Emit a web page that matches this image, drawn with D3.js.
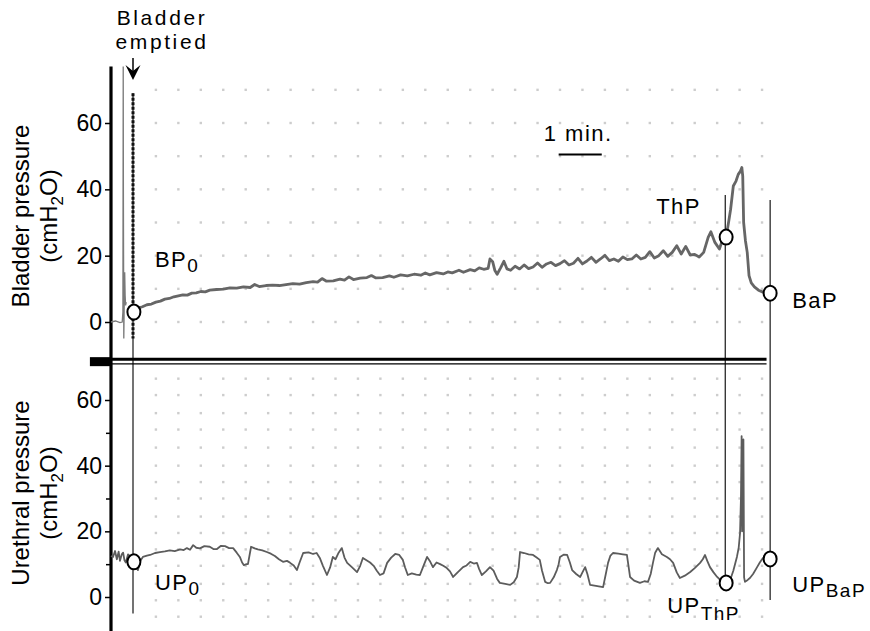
<!DOCTYPE html>
<html>
<head>
<meta charset="utf-8">
<script src="https://cdn.jsdelivr.net/npm/d3@7"></script>
<style>
  body { margin: 0; background: #fff; }
  svg { display: block; }
  text { font-family: "Liberation Sans", Arial, Helvetica, sans-serif; fill: #000; }
</style>
</head>
<body>
<svg id="chart" width="870" height="631"></svg>
<script>
// time in minutes, pressure in cmH2O

// bladder trace before the emptying spike
const bladderPre = [
  [0, 0], [0.1, 0.3], [0.2, -0.2], [0.25, 0], [0.265, 3], [0.27, 55], [0.272, 77],
  [0.276, 40], [0.285, -5], [0.295, 6], [0.305, 15], [0.315, 8], [0.325, 5], [0.34, 6]
];

// emptying artefact at the arrow
const emptiedSpike = [[0.49, 69], [0.49, -5]];

// bladder pressure after emptying
const bladderPressure = [
  [0.51, 3.0], [0.6, 4.2], [0.7, 4.6], [0.8, 5.2], [0.9, 5.4], [1.0, 6.0], [1.1, 6.3], [1.2, 6.9],
  [1.3, 7.1], [1.4, 7.6], [1.5, 7.9], [1.6, 8.2], [1.7, 8.1], [1.8, 8.7], [1.9, 8.8], [2.0, 9.2],
  [2.1, 9.1], [2.2, 9.6], [2.35, 9.8], [2.5, 9.9], [2.65, 10.3], [2.8, 10.2], [2.95, 10.6], [3.1, 10.4],
  [3.2, 11.3], [3.3, 10.7], [3.45, 11.0], [3.6, 11.1], [3.75, 11.0], [3.9, 11.3], [4.05, 11.6], [4.2, 11.4],
  [4.35, 11.9], [4.5, 12.2], [4.6, 12.0], [4.7, 13.1], [4.8, 12.3], [4.95, 12.4], [5.1, 12.9], [5.2, 12.6],
  [5.3, 13.6], [5.4, 12.8], [5.55, 13.2], [5.7, 13.4], [5.8, 14.0], [5.9, 13.3], [6.05, 13.4], [6.2, 13.9],
  [6.3, 13.5], [6.45, 14.2], [6.6, 13.9], [6.75, 14.4], [6.9, 14.1], [7.0, 14.8], [7.1, 14.2], [7.25, 14.9],
  [7.4, 14.5], [7.5, 15.1], [7.6, 14.8], [7.75, 15.6], [7.85, 15.0], [8.0, 15.8], [8.1, 15.4], [8.2, 16.3],
  [8.3, 15.9], [8.4, 16.2], [8.44, 19.0], [8.5, 18.2], [8.55, 15.5], [8.6, 14.4], [8.68, 16.4], [8.75, 18.3],
  [8.82, 16.0], [8.9, 15.6], [9.0, 16.8], [9.1, 16.0], [9.2, 17.2], [9.3, 16.1], [9.4, 16.6], [9.5, 17.8],
  [9.6, 16.5], [9.7, 17.5], [9.8, 18.0], [9.9, 17.0], [10.0, 17.6], [10.1, 18.5], [10.2, 17.2], [10.3, 17.7],
  [10.4, 19.2], [10.5, 17.5], [10.6, 18.4], [10.7, 19.5], [10.8, 18.0], [10.9, 19.0], [11.0, 20.1], [11.1, 18.5],
  [11.2, 19.0], [11.3, 18.3], [11.4, 19.6], [11.5, 18.8], [11.6, 19.0], [11.7, 20.2], [11.8, 19.0], [11.9, 19.5],
  [12.0, 21.2], [12.1, 19.3], [12.2, 20.0], [12.3, 21.5], [12.4, 19.8], [12.5, 21.0], [12.6, 23.0], [12.7, 20.5],
  [12.8, 22.8], [12.9, 20.2], [13.0, 20.4], [13.1, 19.6], [13.2, 21.0], [13.3, 25.5], [13.36, 27.2], [13.45, 24.0],
  [13.55, 22.0], [13.62, 24.8], [13.7, 25.6], [13.76, 30.5], [13.8, 34.0], [13.86, 41.0], [13.92, 42.5], [13.97, 44.5],
  [14.02, 45.5], [14.05, 46.6], [14.07, 44.0], [14.09, 30.0], [14.13, 24.5], [14.17, 21.0], [14.21, 14.0], [14.26, 11.8],
  [14.33, 10.6], [14.42, 9.6], [14.52, 9.0], [14.68, 8.7]
];

// urethral pressure
const urethralPressure = [
  [0.0, 12.5], [0.045, 12.2], [0.09, 14.0], [0.13, 11.5], [0.17, 13.8], [0.2, 11.0], [0.24, 13.0], [0.27, 13.5],
  [0.3, 11.2], [0.33, 10.5], [0.38, 13.0], [0.42, 12.5], [0.46, 11.0], [0.51, 10.7], [0.56, 9.5], [0.6, 8.2],
  [0.65, 11.0], [0.71, 12.2], [0.8, 12.6], [0.87, 12.8], [0.98, 13.4], [1.09, 13.7], [1.2, 13.9], [1.31, 14.2],
  [1.42, 14.0], [1.54, 14.5], [1.62, 14.3], [1.69, 14.9], [1.76, 14.4], [1.83, 15.8], [1.9, 15.0], [1.98, 14.8],
  [2.08, 15.5], [2.2, 15.3], [2.28, 14.6], [2.36, 14.6], [2.45, 15.6], [2.54, 15.5], [2.63, 14.9], [2.72, 14.9],
  [2.8, 13.5], [2.87, 12.2], [2.92, 10.5], [2.96, 9.7], [3.02, 10.0], [3.05, 10.0], [3.12, 15.3], [3.2, 14.8],
  [3.27, 14.5], [3.37, 14.2], [3.47, 13.7], [3.56, 13.2], [3.65, 12.5], [3.74, 11.5], [3.83, 10.7], [3.92, 11.0],
  [3.99, 10.4], [4.07, 9.6], [4.14, 8.2], [4.2, 10.5], [4.28, 13.4], [4.4, 13.6], [4.5, 13.1], [4.58, 13.4],
  [4.65, 11.9], [4.72, 9.5], [4.81, 6.7], [4.88, 9.0], [4.94, 12.2], [5.0, 11.5], [5.07, 13.5], [5.14, 14.9],
  [5.2, 12.0], [5.26, 10.4], [5.37, 9.0], [5.48, 7.6], [5.55, 9.5], [5.61, 11.9], [5.69, 11.2], [5.77, 10.5],
  [5.85, 9.5], [5.92, 8.0], [5.99, 6.7], [6.07, 7.2], [6.15, 10.4], [6.24, 12.0], [6.33, 13.1], [6.42, 12.8],
  [6.5, 11.3], [6.55, 9.0], [6.61, 6.7], [6.7, 7.2], [6.8, 6.8], [6.88, 6.7], [6.96, 9.5], [7.04, 12.2],
  [7.1, 11.0], [7.17, 9.1], [7.25, 10.5], [7.33, 10.0], [7.4, 9.5], [7.48, 8.8], [7.55, 7.8], [7.62, 6.1],
  [7.72, 7.5], [7.84, 9.1], [7.92, 9.6], [8.0, 10.7], [8.08, 10.2], [8.15, 10.4], [8.2, 8.5], [8.26, 6.7],
  [8.35, 7.8], [8.44, 9.1], [8.52, 8.0], [8.6, 5.5], [8.66, 4.3], [8.78, 4.0], [8.89, 3.7], [8.97, 4.5],
  [9.04, 6.1], [9.08, 9.0], [9.11, 13.7], [9.2, 13.4], [9.3, 13.0], [9.4, 12.8], [9.48, 12.0], [9.55, 11.3],
  [9.6, 8.0], [9.67, 4.6], [9.73, 4.2], [9.78, 4.3], [9.86, 6.0], [9.93, 8.2], [9.97, 10.0], [10.0, 12.2],
  [10.08, 12.9], [10.16, 12.8], [10.22, 10.5], [10.27, 8.2], [10.36, 7.0], [10.45, 6.1], [10.5, 7.5], [10.56, 9.1],
  [10.61, 7.0], [10.67, 3.7], [10.8, 3.4], [10.96, 3.0], [11.02, 7.0], [11.07, 10.4], [11.12, 12.5], [11.18, 13.4],
  [11.3, 13.2], [11.4, 13.0], [11.49, 12.8], [11.53, 9.0], [11.56, 6.1], [11.65, 5.0], [11.78, 4.3], [11.88, 4.8],
  [11.96, 4.6], [12.02, 7.0], [12.07, 10.4], [12.12, 13.5], [12.18, 14.9], [12.27, 13.0], [12.38, 12.2], [12.45, 11.5],
  [12.52, 10.4], [12.6, 7.5], [12.67, 5.8], [12.78, 6.5], [12.9, 7.6], [13.0, 8.8], [13.12, 10.4], [13.18, 11.5],
  [13.23, 12.8], [13.28, 11.0], [13.34, 9.1], [13.42, 7.5], [13.5, 6.1], [13.6, 4.8], [13.68, 3.7], [13.74, 4.2],
  [13.79, 5.2], [13.86, 8.0], [13.94, 12.2], [13.98, 15.0], [14.01, 19.5], [14.03, 30.0], [14.045, 49.0], [14.055, 20.0],
  [14.07, 35.0], [14.085, 48.0], [14.1, 6.0], [14.12, 4.6], [14.18, 5.2], [14.23, 5.8], [14.3, 7.0], [14.39, 9.1],
  [14.45, 10.5], [14.52, 11.9], [14.6, 11.4], [14.68, 11.6]
];

// reference points: [time, value]
const bladderPoints = [[0.51, 3.0], [13.7, 25.6], [14.68, 8.7]];
const urethralPoints = [[0.51, 10.7], [13.7, 4.3], [14.68, 11.6]];

// tick values
const yTicksMajor = [0, 20, 40, 60];
const yTicksMinor = [10, 30, 50];
const gridCols = d3.range(1, 14.51, 0.5);
const gridRowsTop = [0, 10, 20, 30, 40, 50, 60, 70];
const gridRowsBottom = [-6, -1, 4, 9.5, 14.5, 19.5, 24.5, 30, 35, 40, 45.5, 51, 56, 61.5, 66.5];

const svg = d3.select('#chart');

const x = d3.scaleLinear().domain([0, 15]).range([111, 111 + 15 * 44.9]);
const yTop = d3.scaleLinear().domain([0, 60]).range([322, 123]);
const yBot = d3.scaleLinear().domain([0, 60]).range([597, 400]);

// dotted grid
const dotColor = '#cdcdcd';
function gridDots(rows, y) {
  const pts = [];
  rows.forEach(r => gridCols.forEach(c => pts.push([c, r])));
  svg.append('g')
    .selectAll('rect')
    .data(pts)
    .enter()
    .append('rect')
    .attr('x', d => x(d[0]) - 1.2)
    .attr('y', d => y(d[1]) - 1.2)
    .attr('width', 2.4)
    .attr('height', 2.4)
    .attr('fill', dotColor);
}
gridDots(gridRowsTop, yTop);
gridDots(gridRowsBottom, yBot);

// axes
const axisX = x(0);
function styleAxis(g, fontSize) {
  g.select('.domain').remove();
  g.selectAll('.tick line').attr('stroke', '#000').attr('stroke-width', 1.5);
  g.selectAll('.tick text')
    .style('font-size', fontSize + 'px')
    .style('font-family', '"Liberation Sans", Arial, sans-serif')
    .attr('fill', '#000');
}

svg.append('g')
  .attr('transform', `translate(${axisX},0)`)
  .call(d3.axisLeft(yTop).tickValues(yTicksMajor).tickSize(6).tickPadding(3))
  .call(g => styleAxis(g, 23));

svg.append('g')
  .attr('transform', `translate(${axisX},0)`)
  .call(d3.axisLeft(yBot).tickValues(yTicksMajor).tickSize(6).tickPadding(3))
  .call(g => styleAxis(g, 23));

svg.append('g')
  .attr('transform', `translate(${axisX},0)`)
  .call(d3.axisLeft(yBot).tickValues(yTicksMinor).tickSize(5).tickFormat(''))
  .call(g => styleAxis(g, 23));

// vertical axis line (continuous through both panels)
svg.append('line')
  .attr('x1', axisX).attr('x2', axisX)
  .attr('y1', yTop(77)).attr('y2', yBot(-10.5))
  .attr('stroke', '#000').attr('stroke-width', 3.2);

// separator between the panels
svg.append('rect')
  .attr('x', x(-0.47)).attr('y', yTop(-10.6))
  .attr('width', x(0) - x(-0.47)).attr('height', 9)
  .attr('fill', '#000');
svg.append('line')
  .attr('x1', x(0)).attr('x2', x(14.6))
  .attr('y1', yTop(-11.2)).attr('y2', yTop(-11.2))
  .attr('stroke', '#000').attr('stroke-width', 3);
svg.append('line')
  .attr('x1', x(0)).attr('x2', x(14.6))
  .attr('y1', yTop(-12.6)).attr('y2', yTop(-12.6))
  .attr('stroke', '#000').attr('stroke-width', 1.3);

// event lines
function vline(t, y1, y2) {
  svg.append('line')
    .attr('x1', x(t)).attr('x2', x(t))
    .attr('y1', y1).attr('y2', y2)
    .attr('stroke', '#000').attr('stroke-width', 1.1);
}
vline(0.49, yTop(69), yBot(-5));
vline(13.68, yTop(38.3), yBot(3.5));
vline(14.68, yTop(36.8), yBot(-0.9));

// traces
const lineTop = d3.line().x(d => x(d[0])).y(d => yTop(d[1]));
const lineBot = d3.line().x(d => x(d[0])).y(d => yBot(d[1]));

svg.append('path')
  .attr('d', lineTop(bladderPre))
  .attr('fill', 'none').attr('stroke', '#7a7a7a').attr('stroke-width', 1.3);

svg.append('path')
  .attr('d', lineTop(emptiedSpike))
  .attr('fill', 'none').attr('stroke', '#111').attr('stroke-width', 3)
  .attr('stroke-dasharray', '3,1.5');

svg.append('path')
  .attr('d', lineTop(bladderPressure))
  .attr('fill', 'none').attr('stroke', '#666').attr('stroke-width', 2.8)
  .attr('stroke-linejoin', 'round');

svg.append('path')
  .attr('d', lineBot(urethralPressure))
  .attr('fill', 'none').attr('stroke', '#5c5c5c').attr('stroke-width', 1.8)
  .attr('stroke-linejoin', 'round');

// markers
function markers(pts, y) {
  svg.append('g')
    .selectAll('ellipse')
    .data(pts)
    .enter()
    .append('ellipse')
    .attr('cx', d => x(d[0]))
    .attr('cy', d => y(d[1]))
    .attr('rx', 6.5).attr('ry', 7.5)
    .attr('fill', '#fff').attr('stroke', '#000').attr('stroke-width', 2);
}
markers(bladderPoints, yTop);
markers(urethralPoints, yBot);

// labels
function label(px, py, main, sub, subDy) {
  const t = svg.append('text')
    .attr('x', px).attr('y', py)
    .style('font-size', '22px')
    .style('letter-spacing', '1.5px');
  t.append('tspan').text(main);
  if (sub) {
    t.append('tspan').attr('dy', subDy).style('font-size', '19px').text(sub);
  }
}
label(x(0.51) + 21, yTop(3.0) - 45, 'BP', '0', 5);
label(x(13.7) - 70, yTop(25.6) - 23, 'ThP');
label(x(14.68) + 22, yTop(8.7) + 15, 'BaP');
label(x(0.51) + 21, yBot(10.7) + 28, 'UP', '0', 5);
label(x(13.7) - 59, yBot(4.3) + 30, 'UP', 'ThP', 7);
label(x(14.68) + 22, yBot(11.6) + 33, 'UP', 'BaP', 5);

// "Bladder emptied" annotation with arrow
const ax = x(0.49);
svg.append('text')
  .attr('x', ax + 29).attr('y', 25)
  .attr('text-anchor', 'middle')
  .style('font-size', '21px').style('letter-spacing', '2.6px')
  .text('Bladder');
svg.append('text')
  .attr('x', ax + 29).attr('y', 49)
  .attr('text-anchor', 'middle')
  .style('font-size', '21px').style('letter-spacing', '2.6px')
  .text('emptied');
svg.append('line')
  .attr('x1', ax).attr('x2', ax).attr('y1', 58).attr('y2', 72)
  .attr('stroke', '#000').attr('stroke-width', 1.5);
svg.append('path')
  .attr('d', `M${ax - 7.5},${65} L${ax},${80} L${ax + 7.5},${65} L${ax},${71} Z`)
  .attr('fill', '#000');

// 1 min scale bar
svg.append('line')
  .attr('x1', x(9.97)).attr('x2', x(10.93))
  .attr('y1', yTop(50.5)).attr('y2', yTop(50.5))
  .attr('stroke', '#000').attr('stroke-width', 2);
svg.append('text')
  .attr('x', x(10.45) - 2).attr('y', 141)
  .attr('text-anchor', 'middle')
  .style('font-size', '22px').style('letter-spacing', '1.5px')
  .text('1 min.');

// axis titles
function axisTitle(cy, line1) {
  const g = svg.append('g');
  g.append('text')
    .attr('transform', `translate(29,${cy}) rotate(-90)`)
    .attr('text-anchor', 'middle')
    .style('font-size', '24px')
    .text(line1);
  const t = g.append('text')
    .attr('transform', `translate(57,${cy}) rotate(-90)`)
    .attr('text-anchor', 'middle')
    .style('font-size', '24px');
  t.append('tspan').text('(cmH');
  t.append('tspan').attr('dy', 6).style('font-size', '17px').text('2');
  t.append('tspan').attr('dy', -6).text('O)');
}
axisTitle(216, 'Bladder pressure');
axisTitle(493, 'Urethral pressure');
</script>
</body>
</html>
